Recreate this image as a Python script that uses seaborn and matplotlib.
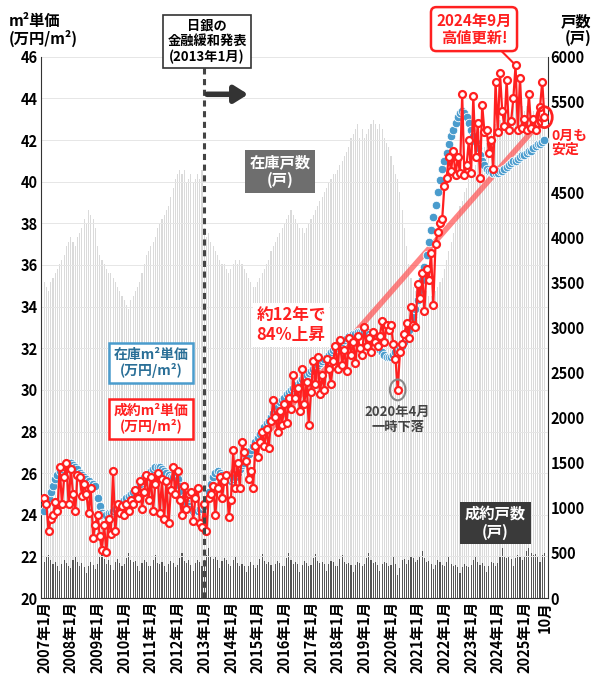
import numpy as np
import pandas as pd
import matplotlib
matplotlib.use("Agg")
import matplotlib.pyplot as plt
import seaborn as sns
from matplotlib.patches import Ellipse

plt.rcParams["font.family"] = "Noto Sans CJK JP"
plt.rcParams["font.weight"] = "bold"

years = list(range(2007, 2026))
stock_price = [
 24.2,24.5,24.8,25.1,25.4,25.7,25.9,26.1,26.2,26.3,26.4,26.5,
 26.5,26.4,26.3,26.2,26.0,25.9,25.8,25.7,25.6,25.5,25.5,25.4,
 24.8,24.4,24.1,24.0,24.0,24.1,24.1,24.2,24.3,24.4,24.5,24.6,
 24.7,24.8,24.9,25.0,25.1,25.2,25.3,25.5,25.6,25.8,25.9,26.0,
 26.1,26.2,26.3,26.3,26.3,26.2,26.1,26.0,25.9,25.8,25.8,25.9,
 25.7,25.4,25.1,24.8,24.6,24.4,24.3,24.2,24.2,24.2,24.3,24.3,
 24.4,24.7,25.1,25.5,25.8,26.0,26.1,26.0,25.9,25.8,25.7,25.6,
 25.6,25.7,25.8,26.0,26.2,26.4,26.5,26.7,26.9,27.1,27.3,27.5,
 27.7,27.9,28.0,28.2,28.4,28.5,28.7,28.9,29.1,29.2,29.4,29.5,
 29.6,29.8,29.9,30.0,30.1,30.2,30.3,30.4,30.5,30.6,30.7,30.8,
 30.9,31.0,31.1,31.2,31.3,31.4,31.5,31.6,31.7,31.8,31.9,32.0,
 32.1,32.2,32.3,32.4,32.5,32.6,32.6,32.7,32.7,32.8,32.8,32.8,
 32.8,32.8,32.7,32.6,32.5,32.3,32.1,31.9,31.8,31.7,31.6,31.6,
 31.6,31.7,31.8,31.9,32.0,32.1,32.3,32.6,32.9,33.2,33.5,33.9,
 34.3,34.8,35.3,35.9,36.5,37.1,37.7,38.3,38.9,39.5,40.1,40.6,
 41.0,41.4,41.8,42.2,42.5,42.8,43.1,43.3,43.4,43.3,43.1,42.8,
 42.5,42.2,41.9,41.6,41.3,41.0,40.8,40.6,40.5,40.5,40.4,40.4,
 40.4,40.5,40.5,40.6,40.7,40.8,40.9,41.0,41.0,41.1,41.2,41.3,
 41.3,41.4,41.5,41.5,41.6,41.7,41.8,41.8,41.9,42.0]
contract_price = [
 24.8,24.5,23.2,23.8,24.0,24.6,24.2,26.3,24.5,25.8,26.5,24.5,
 26.2,25.0,24.2,25.9,25.8,24.9,25.5,25.0,24.1,25.3,22.9,23.5,
 24.0,23.0,22.3,23.5,22.2,23.8,23.1,26.1,23.2,24.5,24.1,24.4,
 24.0,24.5,24.2,24.7,24.5,25.2,24.8,25.6,24.3,25.1,25.9,24.7,
 25.8,24.2,25.5,26.0,24.1,25.7,23.8,25.6,23.6,25.2,26.3,25.0,
 26.1,24.7,24.0,25.4,24.3,25.0,25.1,23.7,24.8,25.3,23.6,23.4,
 24.5,23.2,24.8,25.0,25.4,24.0,25.3,25.8,24.8,25.6,25.9,23.9,
 24.7,27.1,25.3,26.5,25.3,27.5,27.0,26.6,25.7,26.1,25.3,27.3,
 26.8,27.5,28.0,27.3,28.1,27.2,28.5,29.5,28.7,28.0,29.0,28.3,
 29.3,28.4,29.6,29.1,30.7,29.6,30.1,29.0,31.0,29.3,30.4,28.3,
 29.9,31.4,30.3,31.6,29.8,30.7,30.0,31.5,31.0,30.3,31.4,32.1,
 31.0,32.4,31.2,31.9,30.9,32.5,31.7,32.3,31.3,32.6,32.0,31.7,
 33.0,32.1,32.5,31.8,32.8,32.3,32.1,32.6,33.3,32.3,33.1,32.9,
 33.1,32.2,31.5,30.0,31.8,32.2,32.7,33.2,32.5,34.0,33.1,33.0,
 35.1,34.4,35.6,33.8,35.8,35.3,36.6,34.1,37.0,37.6,38.0,38.2,
 39.8,40.2,41.2,40.5,41.5,40.3,41.2,40.4,44.2,40.3,40.8,42.0,
 40.4,44.1,41.2,42.8,40.2,43.7,42.4,42.5,41.4,42.0,40.6,44.8,
 42.4,45.2,43.4,42.7,44.9,42.5,42.9,44.0,45.6,42.5,45.0,42.6,
 43.0,42.5,44.2,42.6,43.0,42.5,42.8,43.6,44.8,43.1]
stock_units = [
 3500,3450,3400,3500,3550,3600,3650,3700,3750,3800,3900,3950,
 4000,3950,3900,4000,4050,4100,4200,4150,4300,4250,4200,4100,
 3900,3800,3750,3700,3650,3600,3600,3550,3500,3450,3400,3350,
 3300,3250,3200,3300,3350,3400,3450,3500,3600,3700,3800,3850,
 3900,3950,4000,4100,4150,4200,4250,4300,4350,4450,4550,4650,
 4700,4750,4700,4750,4600,4650,4700,4600,4650,4700,4650,4750,
 4100,4000,4050,3950,3900,3850,3800,3750,3700,3700,3650,3600,
 3650,3700,3750,3700,3750,3700,3650,3600,3550,3500,3450,3450,
 3500,3550,3600,3650,3700,3750,3850,3900,3950,4000,4050,4100,
 4150,4200,4250,4300,4250,4200,4150,4100,4100,4050,4100,4150,
 4200,4250,4300,4350,4400,4450,4500,4550,4600,4650,4700,4700,
 4750,4800,4850,4900,4950,5000,5100,5150,5200,5250,5100,5200,
 5100,5150,5200,5250,5300,5250,5200,5250,5200,5100,5050,5000,
 4900,4800,4700,4650,4500,4300,4100,3900,3700,3550,3450,3400,
 3450,3500,3450,3400,3400,3350,3350,3350,3400,3450,3500,3550,
 3650,3750,3850,3950,4050,4150,4250,4350,4400,4500,4550,4650,
 4700,4750,4800,4850,4900,4950,5000,5050,5100,5150,5200,5250,
 5250,5300,5350,5350,5400,5450,5400,5450,5500,5450,5500,5450,
 5400,5450,5400,5350,5400,5350,5300,5300,5250,5200]
contract_units = [
 400,450,480,420,380,400,350,300,380,420,390,350,
 330,420,470,400,360,390,340,280,360,400,370,320,
 380,450,520,430,380,420,370,310,400,430,390,360,
 380,440,500,420,400,410,360,300,390,420,400,350,
 360,420,480,390,380,400,360,290,380,410,390,340,
 370,440,500,410,390,420,370,300,390,420,400,360,
 420,480,560,470,430,450,420,330,410,440,420,380,
 350,420,470,390,360,380,350,290,360,400,370,330,
 370,430,490,410,380,400,370,300,380,410,390,350,
 360,440,500,420,380,400,380,290,370,410,390,350,
 370,440,490,410,390,400,380,300,380,410,400,350,
 360,430,480,400,380,390,370,290,370,400,390,350,
 380,440,500,420,390,400,370,300,380,400,390,360,
 370,450,380,260,330,420,430,380,420,470,440,400,
 420,470,520,440,400,410,380,320,370,420,400,370,
 350,400,450,380,350,370,340,280,340,380,360,340,
 370,420,470,400,370,390,360,290,360,400,390,360,
 390,460,560,470,440,450,430,360,440,480,460,420,
 470,520,560,500,480,490,460,400,480,500]
tick_labels = [f"{y}年1月" for y in years] + ["10月"]

n = len(stock_price)
idx = np.arange(n)
df = pd.DataFrame({"i": idx, "stock_price": stock_price, "contract_price": contract_price,
                   "stock_units": stock_units, "contract_units": contract_units})

fig = plt.figure(figsize=(6.0, 6.93), dpi=100)
ax = fig.add_axes([0.068, 0.137, 0.845, 0.781])
ax2 = ax.twinx()

sns.barplot(data=df, x="i", y="stock_units", ax=ax2, color="#dadada", width=0.5,
            saturation=1, edgecolor="none", native_scale=True)
sns.barplot(data=df, x="i", y="contract_units", ax=ax2, color="#555555", width=0.5,
            saturation=1, edgecolor="none", native_scale=True)
ax2.set_ylim(0, 6000)
ax2.set_yticks(range(0, 6001, 500))
ax2.set_ylabel("")
ax2.tick_params(axis="y", length=0, labelsize=10.5, pad=2)

ax.set_zorder(ax2.get_zorder() + 1)
ax.patch.set_visible(False)

for v in range(20, 47, 2):
    ax.axhline(v, color="#e6e6e6", lw=0.7, zorder=0)

start, end = 72, n - 1
ax.plot([start, end], [contract_price[start], contract_price[end]], color="#ff5050",
        lw=4, alpha=0.7, zorder=2, solid_capstyle="round")

sns.scatterplot(data=df, x="i", y="stock_price", ax=ax, color="#4a9ccd", s=38,
                edgecolor="white", linewidth=0.6, zorder=3)
sns.lineplot(data=df, x="i", y="contract_price", ax=ax, color="#ff2020", lw=1.6,
             marker="o", markersize=5, markerfacecolor="white", markeredgecolor="#ff2020",
             markeredgewidth=1.6, zorder=4)

ax.set_xlim(-1.5, n + 0.5)
ax.set_ylim(20, 46)
ax.set_yticks(range(20, 47, 2))
ax.set_xlabel(""); ax.set_ylabel("")
ax.tick_params(axis="y", length=0, labelsize=10.5, pad=2)
xt = [12 * k for k in range(len(years))] + [n - 1]
ax.set_xticks(xt)
ax.set_xticklabels(tick_labels, rotation=90, fontsize=10.5)
ax.tick_params(axis="x", length=0, pad=2)
for a in (ax, ax2):
    for s in a.spines.values():
        s.set_visible(False)
ax.spines["left"].set_visible(True); ax.spines["left"].set_color("#333333")
ax.spines["bottom"].set_visible(True); ax.spines["bottom"].set_color("#333333")
ax2.spines["right"].set_visible(True); ax2.spines["right"].set_color("#333333")

ax.axvline(72, color="#444444", lw=2.2, ls=(0, (2, 1.5)), zorder=5)
ax.annotate("", xy=(93, 44.2), xytext=(72, 44.2),
            arrowprops=dict(arrowstyle="-|>,head_width=0.5,head_length=0.8", color="#333333", lw=4), zorder=6)

fig.text(0.015, 0.957, "m²単価\n(万円/m²)", fontsize=11, ha="left", va="center", linespacing=1.05)
fig.text(0.985, 0.957, "戸数\n(戸)", fontsize=11, ha="right", va="center", linespacing=1.05)
fig.text(0.345, 0.94, "日銀の\n金融緩和発表\n(2013年1月)", fontsize=9.5, ha="center", va="center",
         linespacing=1.15, bbox=dict(boxstyle="square,pad=0.3", fc="white", ec="#333333", lw=1.2))
fig.text(0.79, 0.958, "2024年9月\n高値更新!", fontsize=11, ha="center", va="center", color="#ff2020",
         linespacing=1.1, bbox=dict(boxstyle="round,pad=0.35", fc="white", ec="#ff2020", lw=1.8))
ax.annotate("", xy=(212, 45.6), xytext=(198, 47.1), annotation_clip=False,
            arrowprops=dict(arrowstyle="-", color="#ff2020", lw=1.5))

ax.text(106, 40.5, "在庫戸数\n(戸)", fontsize=11, color="white", ha="center", va="center",
        linespacing=1.1, bbox=dict(boxstyle="square,pad=0.3", fc="#6e6e6e", ec="none"), zorder=7)
ax.text(111, 33.1, "約12年で\n84%上昇", fontsize=12, color="#ff2020", ha="center", va="center",
        linespacing=1.1, bbox=dict(boxstyle="square,pad=0.2", fc="white", ec="none"), zorder=7)
ax.text(48, 31.3, "在庫m²単価\n(万円/m²)", fontsize=10, color="#2a6f97", ha="center", va="center",
        linespacing=1.1, bbox=dict(boxstyle="square,pad=0.35", fc="white", ec="#4a9ccd", lw=1.8), zorder=7)
ax.text(48, 28.6, "成約m²単価\n(万円/m²)", fontsize=10, color="#ff2020", ha="center", va="center",
        linespacing=1.1, bbox=dict(boxstyle="square,pad=0.35", fc="white", ec="#ff2020", lw=1.8), zorder=7)
ax.add_patch(Ellipse((159, 30.0), 7, 1.0, fill=False, ec="#888888", lw=1.5, zorder=6))
ax.text(159, 28.6, "2020年4月\n一時下落", fontsize=9.5, color="#444444", ha="center", va="center",
        linespacing=1.1, zorder=7)
ax.text(203, 23.6, "成約戸数\n(戸)", fontsize=11, color="white", ha="center", va="center",
        linespacing=1.1, bbox=dict(boxstyle="square,pad=0.3", fc="#3a3a3a", ec="none"), zorder=7)
ax.add_patch(Ellipse((n - 1, contract_price[-1]), 7, 1.0, fill=False, ec="#ff2020", lw=2,
                     zorder=7, clip_on=False))
ax2.text(n + 2, 5050, "0月も\n安定", fontsize=10, color="#ff2020", ha="left", va="center",
         linespacing=1.0, zorder=8, clip_on=False,
         bbox=dict(boxstyle="square,pad=0.05", fc="white", ec="none"))

fig.savefig("out.png", dpi=100)
